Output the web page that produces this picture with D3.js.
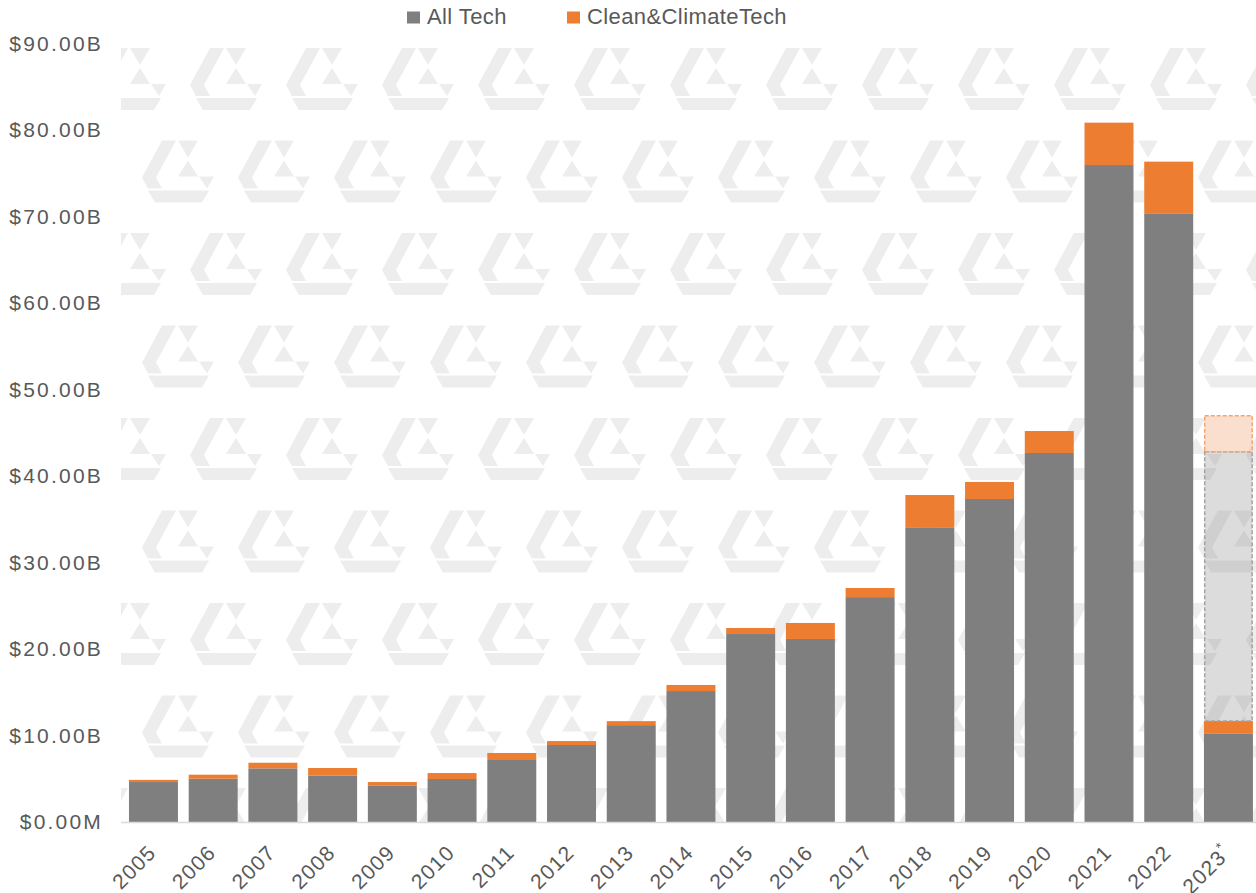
<!DOCTYPE html>
<html>
<head>
<meta charset="utf-8">
<script src="https://cdn.jsdelivr.net/npm/d3@7"></script>
<style>
  html, body { margin: 0; padding: 0; background: #ffffff; }
  svg { display: block; }
  text { font-family: "Liberation Sans", Arial, sans-serif; fill: #595959; }
</style>
</head>
<body>
<svg id="chart" width="1256" height="893"></svg>
<script>
// Venture funding by year, $ billions
const years = ["2005","2006","2007","2008","2009","2010","2011","2012","2013","2014",
               "2015","2016","2017","2018","2019","2020","2021","2022","2023*"];
const allTech = [4.62, 5.0, 6.2, 5.35, 4.24, 4.97, 7.17, 8.9, 11.2, 15.14,
                 21.73, 21.16, 26.0, 34.0, 37.34, 42.66, 75.95, 70.37, 10.25];
const cleanTech = [0.25, 0.47, 0.65, 0.89, 0.38, 0.69, 0.81, 0.46, 0.46, 0.7,
                   0.7, 1.85, 1.05, 3.8, 1.97, 2.54, 4.9, 5.97, 1.42];
// Remaining full-year projection for 2023 (dashed segments)
const projectedAllTech = [0,0,0,0,0,0,0,0,0,0,0,0,0,0,0,0,0,0, 31.13];
const projectedClean   = [0,0,0,0,0,0,0,0,0,0,0,0,0,0,0,0,0,0, 4.16];

const yTicks = [0, 10, 20, 30, 40, 50, 60, 70, 80, 90];
const legendLabels = ["All Tech", "Clean&ClimateTech"];

const rows = years.map((y, i) => ({
  year: y,
  allTech: allTech[i],
  cleanTech: cleanTech[i],
  projAllTech: projectedAllTech[i],
  projClean: projectedClean[i]
}));

const svg = d3.select("#chart");
const plot = { left: 121, right: 1256, top: 43.5, bottom: 822 };

const x = d3.scaleBand()
  .domain(years)
  .range([123.6, 1258.3])
  .paddingInner(0.18)
  .paddingOuter(0.09);

const y = d3.scaleLinear()
  .domain([0, 90])
  .range([plot.bottom, plot.top]);

// ---- tiled logo watermark behind the plot ----
const defs = svg.append("defs");
defs.append("clipPath").attr("id", "plotClip")
  .append("rect")
  .attr("x", plot.left).attr("y", plot.top)
  .attr("width", plot.right - plot.left)
  .attr("height", plot.bottom - plot.top);

const logo = defs.append("g").attr("id", "logo").attr("fill", "#ededed");
const logoParts = [
  [[20,0],[34,0],[14,37],[20,48],[6,48],[0,37]],
  [[36,0],[56,0],[46,17]],
  [[46,20],[36,36],[56,36]],
  [[57,36],[72,36],[65,48]],
  [[6,50],[67,50],[60,62],[13,62]]
];
logoParts.forEach(p => logo.append("polygon").attr("points", p.map(d => d.join(",")).join(" ")));

const wm = svg.append("g").attr("clip-path", "url(#plotClip)");
for (let r = 0; r < 9; r++) {
  const top = 48 + r * 92.5;
  const start = (r % 2 === 0) ? 94 : 46;
  for (let cx = start; cx < plot.right; cx += 96) {
    wm.append("use").attr("href", "#logo").attr("x", cx).attr("y", top);
  }
}

// ---- stacked bars ----
const keys = ["allTech", "cleanTech", "projAllTech", "projClean"];
const stack = d3.stack().keys(keys)(rows);

const styles = {
  allTech:     { fill: "#7f7f7f", stroke: "none", dash: null },
  cleanTech:   { fill: "#ed7d31", stroke: "none", dash: null },
  projAllTech: { fill: "rgba(140,140,140,0.3)", stroke: "#a3a3a3", dash: "4,2" },
  projClean:   { fill: "rgba(248,196,165,0.55)", stroke: "#f4a56e", dash: "4,2" }
};

stack.forEach(layer => {
  const st = styles[layer.key];
  svg.append("g")
    .selectAll("rect")
    .data(layer.filter(d => d[1] - d[0] > 0))
    .join("rect")
    .attr("x", d => x(d.data.year) + (st.dash ? 0.75 : 0))
    .attr("width", x.bandwidth() - (st.dash ? 1.5 : 0))
    .attr("y", d => y(d[1]))
    .attr("height", d => y(d[0]) - y(d[1]))
    .attr("fill", st.fill)
    .attr("stroke", st.stroke)
    .attr("stroke-width", st.dash ? 1.5 : 0)
    .attr("stroke-dasharray", st.dash);
});

// ---- axes ----
svg.append("line")
  .attr("x1", plot.left).attr("x2", plot.right)
  .attr("y1", plot.bottom + 0.5).attr("y2", plot.bottom + 0.5)
  .attr("stroke", "#d9d9d9").attr("stroke-width", 1.5);

const yAxis = svg.append("g")
  .attr("transform", "translate(103,0)")
  .call(d3.axisLeft(y).tickValues(yTicks).tickSize(0).tickPadding(0)
    .tickFormat(d => d === 0 ? "$0.00M" : "$" + d3.format(".2f")(d) + "B"));
yAxis.select(".domain").remove();
yAxis.selectAll("text")
  .attr("font-size", 21)
  .attr("letter-spacing", "2.2px")
  .attr("fill", "#595959")
  .attr("font-family", "Liberation Sans, Arial, sans-serif");

const xLabels = svg.append("g");
xLabels.selectAll("text")
  .data(years)
  .join("text")
  .attr("transform", d => `translate(${x(d) + x.bandwidth() / 2 + 4},854) rotate(-45)`)
  .attr("text-anchor", "end")
  .attr("font-size", 21)
  .attr("letter-spacing", "1.2px")
  .each(function(d) {
    const t = d3.select(this);
    if (d.endsWith("*")) {
      t.append("tspan").text(d.slice(0, -1));
      t.append("tspan").attr("font-size", 14).attr("dy", -9).text("*");
    } else {
      t.text(d);
    }
  });

// ---- legend ----
const legend = svg.append("g");
const legendItems = [
  { label: legendLabels[0], color: "#7f7f7f", x: 407 },
  { label: legendLabels[1], color: "#ed7d31", x: 567 }
];
legendItems.forEach(item => {
  legend.append("rect")
    .attr("x", item.x).attr("y", 11.5)
    .attr("width", 13).attr("height", 12)
    .attr("fill", item.color);
  legend.append("text")
    .attr("x", item.x + 20).attr("y", 24)
    .attr("font-size", 22)
    .attr("letter-spacing", "0.4px")
    .text(item.label);
});
</script>
</body>
</html>
